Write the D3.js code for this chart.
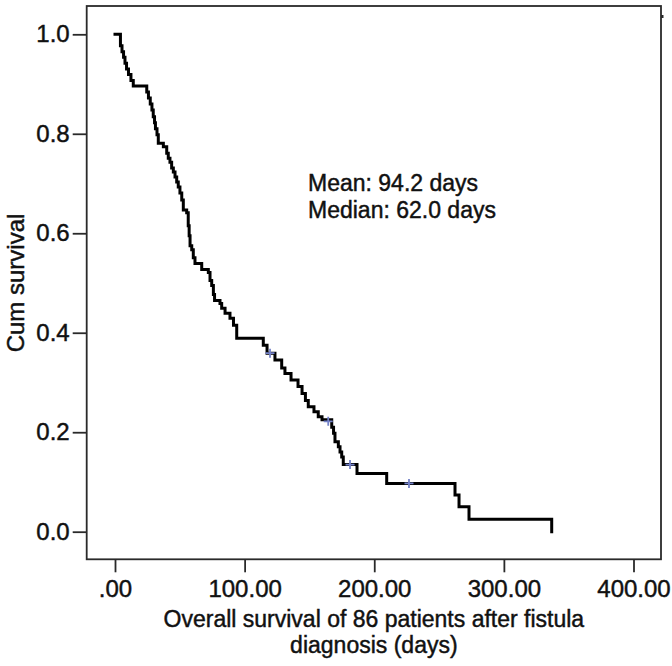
<!DOCTYPE html>
<html><head><meta charset="utf-8">
<script src="https://cdn.jsdelivr.net/npm/d3@7"></script>
<style>
html,body{margin:0;padding:0;background:#fff;}
svg text{font-family:"Liberation Sans",Arial,sans-serif;fill:#111;stroke:#111;stroke-width:0.45px;}
</style></head>
<body>
<svg id="chart" width="672" height="666"></svg>
<script>
// Kaplan-Meier step points (days, cumulative survival)
const times = [0, 4.2, 5.4, 6.6, 7.7, 8.9, 10.4, 12.3, 14.1, 24.5, 25.8, 27.2, 28.5, 29.5, 30.5, 31.2, 32.4, 33.4, 37.3, 39.9, 41.1, 42.4, 43.7, 45.0, 46.3, 47.6, 48.8, 50.1, 51.5, 52.7, 55.3, 56.5, 57.2, 57.9, 59.2, 60.4, 61.7, 66.9, 72.0, 73.3, 74.6, 75.9, 76.8, 81.0, 82.3, 84.9, 88.7, 91.4, 93.9, 114.4, 117.3, 123.4, 128.6, 131.1, 135.8, 141.2, 144.3, 146.9, 149.1, 153.5, 156.8, 159.7, 167.2, 168.6, 169.7, 172.3, 173.6, 174.9, 176.1, 186.7, 209.6, 262.3, 265.4, 273.1, 336.9];
const survival = [1.000, 0.977, 0.965, 0.954, 0.942, 0.930, 0.919, 0.907, 0.896, 0.884, 0.872, 0.860, 0.848, 0.834, 0.822, 0.810, 0.798, 0.781, 0.774, 0.761, 0.751, 0.743, 0.731, 0.723, 0.713, 0.703, 0.693, 0.681, 0.667, 0.647, 0.641, 0.615, 0.595, 0.575, 0.567, 0.551, 0.539, 0.527, 0.521, 0.505, 0.495, 0.477, 0.465, 0.459, 0.449, 0.439, 0.429, 0.415, 0.389, 0.375, 0.359, 0.345, 0.329, 0.318, 0.305, 0.292, 0.278, 0.264, 0.251, 0.241, 0.231, 0.225, 0.210, 0.198, 0.181, 0.171, 0.160, 0.150, 0.135, 0.117, 0.097, 0.074, 0.050, 0.025, 0];
// censored observations (days, survival at that time)
const censorTimes = [119.6, 164.5, 181.3, 226.8];
const censorSurv = [0.359, 0.222, 0.135, 0.097];

const xTicks = [0, 100, 200, 300, 400];
const xTickLabels = [".00", "100.00", "200.00", "300.00", "400.00"];
const yTicks = [0, 0.2, 0.4, 0.6, 0.8, 1.0];
const yTickLabels = ["0.0", "0.2", "0.4", "0.6", "0.8", "1.0"];
const xTitle = ["Overall survival of 86 patients after fistula", "diagnosis (days)"];
const yTitle = "Cum survival";
const annotation = ["Mean: 94.2 days", "Median: 62.0 days"];

const svg = d3.select("#chart");
const frame = {left: 86.7, right: 661, top: 6, bottom: 559.3};
const x = d3.scaleLinear().domain([0, 400]).range([115, 633.5]);
const y = d3.scaleLinear().domain([0, 1]).range([531.7, 34.3]);
const FS = 24;
const FONT = "Liberation Sans, Arial, sans-serif";

// frame
svg.append("rect")
  .attr("x", frame.left).attr("y", frame.top)
  .attr("width", frame.right - frame.left).attr("height", frame.bottom - frame.top)
  .attr("fill", "none").attr("stroke", "#2a2a2a").attr("stroke-width", 1.8);
svg.append("line").attr("x1", frame.right).attr("x2", frame.right + 2.5)
  .attr("y1", 16.5).attr("y2", 16.5).attr("stroke", "#2a2a2a").attr("stroke-width", 3);

// y axis
const yAxis = svg.append("g").attr("transform", `translate(${frame.left},0)`)
  .call(d3.axisLeft(y).tickValues(yTicks).tickSize(14).tickPadding(3)
    .tickFormat((d, i) => yTickLabels[i]));
yAxis.select(".domain").remove();
yAxis.selectAll(".tick line").attr("stroke", "#2a2a2a").attr("stroke-width", 1.8);
yAxis.selectAll(".tick text").attr("font-size", FS).attr("font-family", FONT).attr("fill", "#111");

// x axis
const xAxis = svg.append("g").attr("transform", `translate(0,${frame.bottom})`)
  .call(d3.axisBottom(x).tickValues(xTicks).tickSize(13).tickPadding(8)
    .tickFormat((d, i) => xTickLabels[i]));
xAxis.select(".domain").remove();
xAxis.selectAll(".tick line").attr("stroke", "#2a2a2a").attr("stroke-width", 1.8);
xAxis.selectAll(".tick text").attr("font-size", FS).attr("font-family", FONT).attr("fill", "#111");

// titles
svg.append("text")
  .attr("transform", `translate(24,${(y(0) + y(1)) / 2}) rotate(-90)`)
  .attr("text-anchor", "middle").attr("font-size", FS)
  .text(yTitle);
const cx = (frame.left + frame.right) / 2;
svg.append("text").attr("x", cx).attr("y", 627).attr("text-anchor", "middle")
  .attr("font-size", 23).text(xTitle[0]);
svg.append("text").attr("x", cx).attr("y", 653).attr("text-anchor", "middle")
  .attr("font-size", 23).text(xTitle[1]);

// KM curve
const pts = times.map((t, i) => [t, survival[i]]);
const line = d3.line().x(d => x(d[0])).y(d => y(d[1])).curve(d3.curveStepAfter);
svg.append("path").datum(pts)
  .attr("d", line).attr("fill", "none")
  .attr("stroke", "#000").attr("stroke-width", 3).attr("stroke-linejoin", "miter").attr("stroke-linecap", "square");

// censor marks
const cs = 4.5;
censorTimes.forEach((t, i) => {
  const px = x(t), py = y(censorSurv[i]);
  svg.append("path")
    .attr("d", `M${px - cs},${py}H${px + cs}M${px},${py - cs}V${py + cs}`)
    .attr("stroke", "#7482c8").attr("stroke-width", 1.8).attr("fill", "none");
});

// annotation
annotation.forEach((s, i) => {
  svg.append("text").attr("x", 308).attr("y", 191 + i * 27)
    .attr("font-size", 23).text(s);
});
</script>
</body></html>
